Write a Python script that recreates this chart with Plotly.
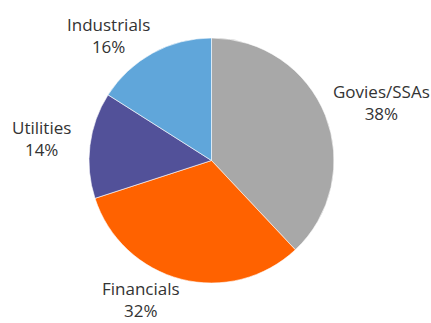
import plotly.graph_objects as go

# Sector breakdown
sectors = ["Govies/SSAs", "Financials", "Utilities", "Industrials"]
shares = [38, 32, 14, 16]
colors = ["#A8A8A8", "#FF6200", "#525199", "#60A6DA"]

# Label anchor positions (pixels from top-left) for each sector
label_x = [381, 141, 41, 108]
label_y = [102, 299, 138, 36]

W, H = 431, 323

fig = go.Figure(
    go.Pie(
        labels=sectors,
        values=shares,
        sort=False,
        direction="clockwise",
        rotation=0,
        marker=dict(colors=colors, line=dict(color="white", width=0.6)),
        textinfo="none",
        hoverinfo="label+percent",
        domain=dict(x=[89 / W, 334 / W], y=[1 - 283 / H, 1 - 38 / H]),
        showlegend=False,
    )
)

for name, val, x, y in zip(sectors, shares, label_x, label_y):
    fig.add_annotation(
        x=x / W,
        y=1 - y / H,
        xref="paper",
        yref="paper",
        text=f"{name}<br>{val}%",
        showarrow=False,
        align="center",
        xanchor="center",
        yanchor="middle",
        font=dict(family="Open Sans", size=17, color="#333333"),
    )

fig.update_layout(
    width=W,
    height=H,
    margin=dict(l=0, r=0, t=0, b=0),
    paper_bgcolor="white",
    plot_bgcolor="white",
)

fig.write_html("out.html")
